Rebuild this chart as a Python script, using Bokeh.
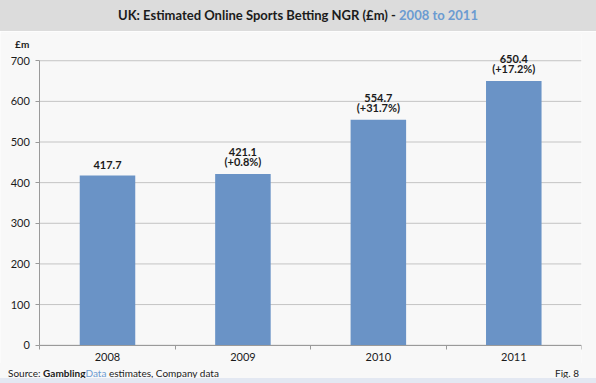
import numpy as np
from bokeh.plotting import figure
from bokeh.models import (ColumnDataSource, FixedTicker, Label, Div, Range1d)
from bokeh.layouts import column
from bokeh.embed import file_html
from bokeh.resources import INLINE

# ---- data ----
years = ["2008", "2009", "2010", "2011"]
ngr = [417.7, 421.1, 554.7, 650.4]
growth = ["", "(+0.8%)", "(+31.7%)", "(+17.2%)"]
y_ticks = [0, 100, 200, 300, 400, 500, 600, 700]

FONT = "Lato"
BG = "#f8f8f8"
BAR = "#6a93c6"
BLUE_TXT = "#6b9bd1"
AXIS = "#9a9a9a"

W = 596
TITLE_H = 31
FOOT_H = 20
FIG_H = 383 - TITLE_H - FOOT_H

title = Div(
    text=('<div style="background:#dcdcdc;height:%dpx;width:%dpx;line-height:%dpx;text-align:center;'
          'font-family:Lato;font-weight:bold;font-size:13px;color:#1b1b1b;white-space:nowrap">'
          'UK: Estimated Online Sports Betting NGR (£m) - '
          '<span style="color:%s">2008 to 2011</span></div>') % (TITLE_H, W, TITLE_H, BLUE_TXT),
    width=W, height=TITLE_H, margin=(0, 0, 0, 0))

n = len(years)
xc = np.arange(n) + 0.5
src = ColumnDataSource(dict(x=xc, top=ngr))

p = figure(width=W, height=FIG_H, output_backend="svg", toolbar_location=None,
           x_range=Range1d(-0.29, n), y_range=Range1d(-45, 767),
           min_border_left=0, min_border_right=15, min_border_top=2, min_border_bottom=0)
p.background_fill_color = BG
p.border_fill_color = BG
p.outline_line_color = None
p.xgrid.grid_line_color = None
p.ygrid.grid_line_color = None

# horizontal gridlines over the category span
p.segment(x0=[0] * len(y_ticks), x1=[n] * len(y_ticks), y0=y_ticks, y1=y_ticks,
          line_color="#c4c4c4", line_width=1)

p.vbar(x="x", top="top", width=0.41, bottom=0, source=src, fill_color=BAR, line_color=None)

for x, v, g in zip(xc, ngr, growth):
    lines = [f"{v:.1f}"] + ([g] if g else [])
    for k, t in enumerate(reversed(lines)):
        p.add_layout(Label(x=x, y=v, text=t, text_align="center", text_baseline="bottom",
                           y_offset=6 + 12 * k, text_font=FONT, text_font_size="11px",
                           text_font_style="bold", text_color="#1b1b1b"))

# axes
p.xaxis.fixed_location = 0
p.xaxis.bounds = (0, n)
p.xaxis.ticker = FixedTicker(ticks=list(xc), minor_ticks=list(range(n + 1)))
p.xaxis.major_label_overrides = {float(x): y for x, y in zip(xc, years)}
p.xaxis.major_tick_line_color = None
p.xaxis.major_tick_out = 0
p.xaxis.major_tick_in = 0
p.xaxis.minor_tick_out = 4
p.xaxis.minor_tick_in = 0
p.xaxis.minor_tick_line_color = AXIS
p.xaxis.axis_line_color = AXIS
p.xaxis.major_label_standoff = 4
p.xaxis.major_label_text_font = FONT
p.xaxis.major_label_text_font_size = "11px"
p.xaxis.major_label_text_color = "#1b1b1b"

p.yaxis.fixed_location = 0
p.yaxis.ticker = FixedTicker(ticks=y_ticks)
p.yaxis.bounds = (0, 700)
p.yaxis.axis_line_color = AXIS
p.yaxis.major_tick_line_color = AXIS
p.yaxis.major_tick_out = 4
p.yaxis.major_tick_in = 0
p.yaxis.minor_tick_line_color = None
p.yaxis.major_label_standoff = 6
p.yaxis.major_label_text_font = FONT
p.yaxis.major_label_text_font_size = "11px"
p.yaxis.major_label_text_color = "#1b1b1b"

p.add_layout(Label(x=-0.13, y=742, text="£m", text_align="center", text_baseline="middle",
                   text_font=FONT, text_font_size="10px", text_font_style="bold",
                   text_color="#1b1b1b"))

footer = Div(
    text=('<div style="background:%s;height:%dpx;width:%dpx;position:relative;font-family:Lato;'
          'font-size:10px;color:#1b1b1b">'
          '<span style="position:absolute;left:8px;top:3px">Source: <b>Gambling</b>'
          '<span style="color:%s">Data</span> estimates, Company data</span>'
          '<span style="position:absolute;right:17px;top:3px">Fig. 8</span>'
          '<div style="position:absolute;left:0;bottom:0;width:100%%;height:5px;background:#e3e8f2"></div>'
          '</div>') % (BG, FOOT_H, W, BLUE_TXT),
    width=W, height=FOOT_H, margin=(0, 0, 0, 0))

layout = column(title, p, footer, spacing=0)
open("out.html", "w").write(file_html(layout, INLINE))
